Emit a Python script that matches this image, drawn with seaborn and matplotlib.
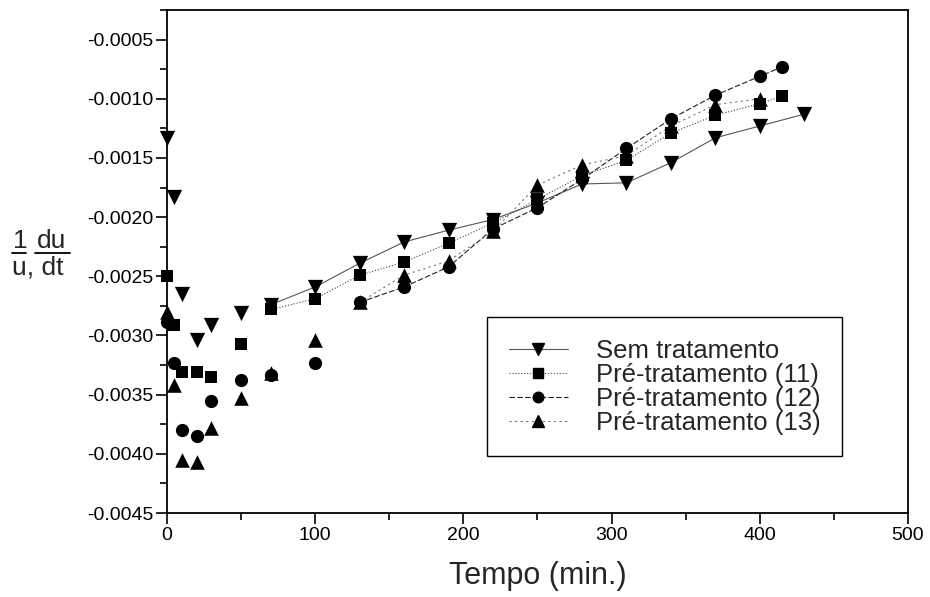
import numpy as np
import pandas as pd
import matplotlib
matplotlib.use("Agg")
import matplotlib.pyplot as plt
import seaborn as sns
from matplotlib.lines import Line2D
from matplotlib.ticker import MultipleLocator, FuncFormatter

# ---------------- data ----------------
x_sem = [0, 5, 10, 20, 30, 50, 70, 100, 130, 160, 190, 220, 250, 280, 310, 340, 370, 400, 430]
y_sem = [-0.00133, -0.00183, -0.00265, -0.00304, -0.00291, -0.00281, -0.00274, -0.00259,
         -0.00239, -0.00221, -0.00211, -0.00202, -0.00188, -0.00172, -0.00171, -0.00154,
         -0.00133, -0.00123, -0.00113]

x_p11 = [0, 5, 10, 20, 30, 50, 70, 100, 130, 160, 190, 220, 250, 280, 310, 340, 370, 400, 415]
y_p11 = [-0.00250, -0.00291, -0.00331, -0.00331, -0.00335, -0.00307, -0.00278, -0.00269,
         -0.00249, -0.00238, -0.00222, -0.00205, -0.00185, -0.00165, -0.00152, -0.00129,
         -0.00114, -0.00104, -0.00098]

x_p12 = [0, 5, 10, 20, 30, 50, 70, 100, 130, 160, 190, 220, 250, 280, 310, 340, 370, 400, 415]
y_p12 = [-0.00289, -0.00323, -0.00380, -0.00385, -0.00355, -0.00338, -0.00333, -0.00323,
         -0.00272, -0.00259, -0.00242, -0.00210, -0.00192, -0.00168, -0.00142, -0.00117,
         -0.00097, -0.00081, -0.00073]

x_p13 = [0, 5, 10, 20, 30, 50, 70, 100, 130, 160, 190, 220, 250, 280, 310, 340, 370, 400]
y_p13 = [-0.00280, -0.00342, -0.00405, -0.00407, -0.00378, -0.00353, -0.00332, -0.00304,
         -0.00272, -0.00249, -0.00237, -0.00212, -0.00173, -0.00156, -0.00148, -0.00123,
         -0.00105, -0.00100]

labels = ["Sem tratamento", "Pré-tratamento (11)", "Pré-tratamento (12)", "Pré-tratamento (13)"]
line_from = [70, 70, 130, 130]   # connecting lines drawn from this time on

x_ticks = [0, 100, 200, 300, 400, 500]
y_ticks = [-0.0045, -0.0040, -0.0035, -0.0030, -0.0025, -0.0020, -0.0015, -0.0010, -0.0005]

# ---------------- style ----------------
sns.set_style("ticks")
plt.rcParams['font.family'] = ['Liberation Sans', 'DejaVu Sans']

markers = ["v", "s", "o", "^"]
msizes = [11, 8.5, 9.5, 10.5]
lstyles = ["-", ":", (0, (5, 2)), (0, (2, 3))]
lcolors = ["#555555", "#444444", "#222222", "#777777"]

fig = plt.figure(figsize=(9.3, 5.97), dpi=100)
ax = fig.add_axes([0.1796, 0.1407, 0.7967, 0.8425])

series = [(x_sem, y_sem), (x_p11, y_p11), (x_p12, y_p12), (x_p13, y_p13)]
handles = []
for i, ((xs, ys), lab) in enumerate(zip(series, labels)):
    df = pd.DataFrame({"t": xs, "v": ys})
    dfl = df[df["t"] >= line_from[i]]
    sns.lineplot(data=dfl, x="t", y="v", ax=ax, color=lcolors[i], lw=0.8,
                 linestyle=lstyles[i], sort=True, estimator=None, legend=False)
    sns.scatterplot(data=df, x="t", y="v", ax=ax, marker=markers[i], color="black",
                    s=msizes[i] ** 2, edgecolor="black", linewidth=0, legend=False,
                    zorder=3, clip_on=False)
    handles.append(Line2D([], [], color=lcolors[i], lw=0.8, linestyle=lstyles[i],
                          marker=markers[i], markersize=msizes[i] * 0.8,
                          markerfacecolor="black", markeredgecolor="black"))

ax.set_xlim(0, 500)
ax.set_ylim(-0.0045, -0.00025)
ax.set_xticks(x_ticks)
ax.set_yticks(y_ticks)
ax.xaxis.set_minor_locator(MultipleLocator(50))
ax.yaxis.set_minor_locator(MultipleLocator(0.00025))
ax.yaxis.set_major_formatter(FuncFormatter(lambda v, p: f"{v:.4f}"))
ax.xaxis.set_major_formatter(FuncFormatter(lambda v, p: f"{v:.0f}"))
ax.tick_params(axis="both", which="major", direction="out", length=8, width=1.2,
               labelsize=14, color="black", labelcolor="black", pad=2)
ax.tick_params(axis="both", which="minor", direction="out", length=5, width=1.2, color="black")
for sp in ax.spines.values():
    sp.set_visible(True)
    sp.set_color("black")
    sp.set_linewidth(1.3)
ax.set_xlabel("Tempo (min.)", fontsize=22, labelpad=12)
ax.set_ylabel("")

# y label written as a fraction: (1/u_i)(du/dt)
fig.text(13 / 930, 1 - 248 / 597, "1", fontsize=19, ha="left", va="baseline")
fig.text(37 / 930, 1 - 248 / 597, "du", fontsize=19, ha="left", va="baseline")
fig.text(12 / 930, 1 - 275 / 597, "u, dt", fontsize=19, ha="left", va="baseline")
fig.add_artist(Line2D([12 / 930, 26 / 930], [1 - 253 / 597, 1 - 253 / 597],
                      color="black", lw=1.3, transform=fig.transFigure))
fig.add_artist(Line2D([35 / 930, 70 / 930], [1 - 253 / 597, 1 - 253 / 597],
                      color="black", lw=1.3, transform=fig.transFigure))

leg = ax.legend(handles, labels, loc="center", bbox_to_anchor=(0.425, 0.0954, 0.493, 0.312),
                fontsize=18.5, frameon=True, fancybox=False, shadow=False,
                handlelength=2.3, handletextpad=1.1, labelspacing=0.0, borderpad=0.85,
                numpoints=1, borderaxespad=0)
leg.get_frame().set_edgecolor("black")
leg.get_frame().set_linewidth(1.0)
leg.get_frame().set_alpha(1)

fig.savefig("out.png", dpi=100)
